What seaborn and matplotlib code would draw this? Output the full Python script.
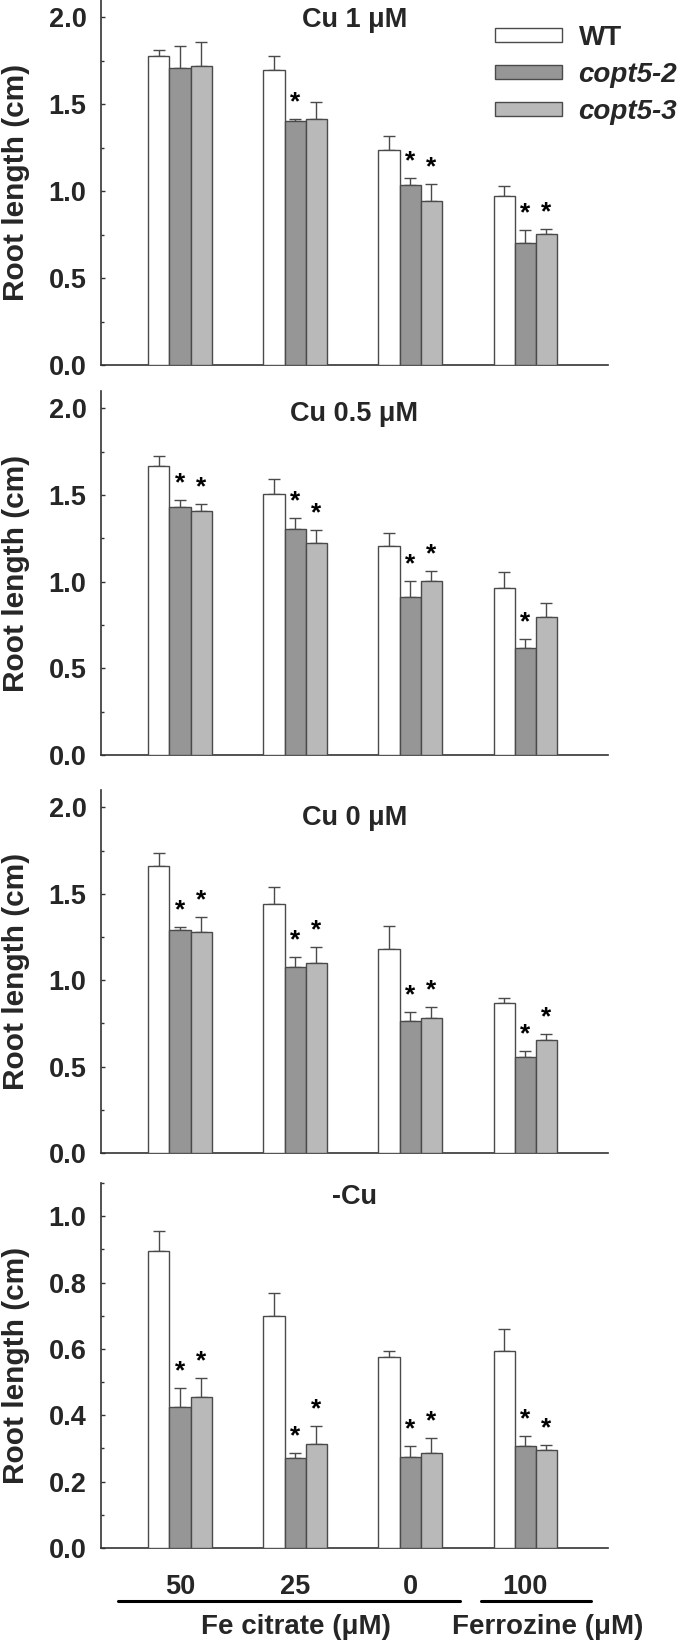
import numpy as np
import pandas as pd
import matplotlib
matplotlib.use("Agg")
import matplotlib.pyplot as plt
import matplotlib.transforms as mtransforms
from matplotlib.ticker import MultipleLocator, FormatStrFormatter
import seaborn as sns

# ---------------- data ----------------
groups = ["50", "25", "0", "100"]
genotypes = ["WT", "copt5-2", "copt5-3"]
titles = ["Cu 1 \u03bcM", "Cu 0.5 \u03bcM", "Cu 0 \u03bcM", "-Cu"]

# panel 1 : Cu 1 uM
p1_wt = [1.775, 1.699, 1.236, 0.973]
p1_c2 = [1.708, 1.401, 1.035, 0.700]
p1_c3 = [1.720, 1.413, 0.942, 0.756]
p1_wt_err = [0.035, 0.076, 0.079, 0.056]
p1_c2_err = [0.125, 0.016, 0.040, 0.077]
p1_c3_err = [0.136, 0.099, 0.098, 0.029]
p1_c2_sig = [0, 1, 1, 1]
p1_c3_sig = [0, 0, 1, 1]

# panel 2 : Cu 0.5 uM
p2_wt = [1.668, 1.505, 1.208, 0.966]
p2_c2 = [1.430, 1.306, 0.913, 0.619]
p2_c3 = [1.407, 1.223, 1.003, 0.796]
p2_wt_err = [0.058, 0.090, 0.071, 0.089]
p2_c2_err = [0.039, 0.059, 0.088, 0.048]
p2_c3_err = [0.041, 0.075, 0.059, 0.080]
p2_c2_sig = [1, 1, 1, 1]
p2_c3_sig = [1, 1, 1, 0]

# panel 3 : Cu 0 uM
p3_wt = [1.659, 1.440, 1.179, 0.869]
p3_c2 = [1.290, 1.076, 0.763, 0.554]
p3_c3 = [1.279, 1.099, 0.782, 0.652]
p3_wt_err = [0.076, 0.098, 0.135, 0.030]
p3_c2_err = [0.016, 0.057, 0.054, 0.036]
p3_c3_err = [0.084, 0.092, 0.062, 0.034]
p3_c2_sig = [1, 1, 1, 1]
p3_c3_sig = [1, 1, 1, 1]

# panel 4 : -Cu
p4_wt = [0.894, 0.699, 0.577, 0.593]
p4_c2 = [0.424, 0.272, 0.274, 0.308]
p4_c3 = [0.454, 0.314, 0.287, 0.294]
p4_wt_err = [0.061, 0.071, 0.018, 0.066]
p4_c2_err = [0.058, 0.013, 0.033, 0.029]
p4_c3_err = [0.058, 0.054, 0.045, 0.017]
p4_c2_sig = [1, 1, 1, 1]
p4_c3_sig = [1, 1, 1, 1]

panels = [
    (p1_wt, p1_c2, p1_c3, p1_wt_err, p1_c2_err, p1_c3_err, p1_c2_sig, p1_c3_sig),
    (p2_wt, p2_c2, p2_c3, p2_wt_err, p2_c2_err, p2_c3_err, p2_c2_sig, p2_c3_sig),
    (p3_wt, p3_c2, p3_c3, p3_wt_err, p3_c2_err, p3_c3_err, p3_c2_sig, p3_c3_sig),
    (p4_wt, p4_c2, p4_c3, p4_wt_err, p4_c2_err, p4_c3_err, p4_c2_sig, p4_c3_sig),
]
ylims = [2.1, 2.1, 2.1, 1.1]
major_steps = [0.5, 0.5, 0.5, 0.2]
title_y = [1.985, 1.966, 1.937, 1.058]

# ---------------- style ----------------
sns.set_style("white")
plt.rcParams["font.family"] = ["Liberation Sans", "DejaVu Sans"]
plt.rcParams["font.weight"] = "bold"

palette = ["#ffffff", "#969696", "#b9b9b9"]
edge = "#4a4a4a"

W, H = 685, 1643
fig = plt.figure(figsize=(W / 100, H / 100), dpi=100)

# axes boxes in pixels (top, bottom)
boxes = [(0, 365), (391, 755), (790, 1153), (1183, 1548)]
left_px, right_px = 101, 608

axes = []
for i, (top, bot) in enumerate(boxes):
    ax = fig.add_axes([left_px / W, 1 - bot / H, (right_px - left_px) / W, (bot - top) / H])
    axes.append(ax)
    wt, c2, c3, ewt, ec2, ec3, s2, s3 = panels[i]
    df = pd.DataFrame({
        "Fe": groups * 3,
        "genotype": [g for g in genotypes for _ in groups],
        "length": wt + c2 + c3,
    })
    sns.barplot(data=df, x="Fe", y="length", hue="genotype", order=groups,
                hue_order=genotypes, palette=palette, width=0.55, gap=0,
                edgecolor=edge, linewidth=1.0, errorbar=None, ax=ax,
                legend=False, zorder=3)
    errs = [ewt, ec2, ec3]
    sigs = [None, s2, s3]
    for h, cont in enumerate(ax.containers[:3]):
        xs = [b.get_x() + b.get_width() / 2 for b in cont]
        ys = [b.get_height() for b in cont]
        e = errs[h]
        ax.errorbar(xs, ys, yerr=[np.zeros(len(e)), e], fmt="none",
                    ecolor=edge, elinewidth=1.0, capsize=4.3, capthick=1.0,
                    zorder=2)
        if sigs[h] is not None:
            for x, y, ee, s in zip(xs, ys, e, sigs[h]):
                if s:
                    ax.annotate("*", xy=(x, y + ee), xytext=(0, 7),
                                textcoords="offset points", ha="center",
                                va="baseline", fontsize=19, fontweight="bold",
                                color="black")

    ax.set_xlim(-0.687, 3.72)
    ax.set_ylim(0, ylims[i])
    ax.yaxis.set_major_locator(MultipleLocator(major_steps[i]))
    ax.yaxis.set_minor_locator(MultipleLocator(major_steps[i] / 2))
    ax.yaxis.set_major_formatter(FormatStrFormatter("%.1f"))
    ax.tick_params(axis="y", which="major", direction="in", length=3.2,
                   width=1.0, color="#333333", pad=10.5, labelsize=19.5,
                   left=True)
    ax.tick_params(axis="y", which="minor", direction="in", length=2.4,
                   width=1.0, color="#333333", left=True)
    for lab in ax.get_yticklabels():
        lab.set_fontweight("bold")
    ax.tick_params(axis="x", length=0)
    for sp in ["top", "right"]:
        ax.spines[sp].set_visible(False)
    for sp in ["left", "bottom"]:
        ax.spines[sp].set_color("#333333")
        ax.spines[sp].set_linewidth(1.2)
    ax.set_xlabel("")
    ax.set_ylabel("Root length (cm)", fontsize=21.5, fontweight="bold")
    ax.yaxis.set_label_coords(-0.14, 0.5)
    ax.text(0.5, title_y[i], titles[i], transform=ax.get_yaxis_transform(),
            ha="center", va="center", fontsize=19.5, fontweight="bold")
    ax.set_facecolor("none")
    if i < 3:
        ax.set_xticklabels([])
    else:
        ax.tick_params(axis="x", pad=19)
        for lab in ax.get_xticklabels():
            lab.set_fontsize(19.5)
            lab.set_fontweight("bold")

# legend
ax0 = axes[0]
handles = [ax0.containers[h][0] for h in range(3)]
leg = fig.legend(handles, genotypes, loc="upper left",
                 bbox_to_anchor=(495 / W, 1 - 25 / H), frameon=False,
                 fontsize=20, handlelength=2.41, handleheight=0.4,
                 handletextpad=0.6, labelspacing=0.4, borderpad=0,
                 borderaxespad=0)
for t in leg.get_texts():
    t.set_fontweight("bold")
leg.get_texts()[1].set_style("italic")
leg.get_texts()[2].set_style("italic")

# bottom annotations: underlines and treatment labels
ax4 = axes[3]
trans = mtransforms.blended_transform_factory(ax4.transData, ax4.transAxes)
fe_span = (-0.539, 2.435)
fz_span = (2.617, 3.574)
line_y = -0.144
ax4.plot(fe_span, [line_y, line_y], color="black", lw=2.2, transform=trans,
         clip_on=False, solid_capstyle="round")
ax4.plot(fz_span, [line_y, line_y], color="black", lw=2.2, transform=trans,
         clip_on=False, solid_capstyle="round")
ax4.text(1.01, -0.216, "Fe citrate (\u03bcM)", transform=trans, ha="center",
         va="center", fontsize=20, fontweight="bold")
ax4.text(3.2, -0.216, "Ferrozine (\u03bcM)", transform=trans, ha="center",
         va="center", fontsize=20, fontweight="bold")

fig.savefig("out.png", dpi=100)
